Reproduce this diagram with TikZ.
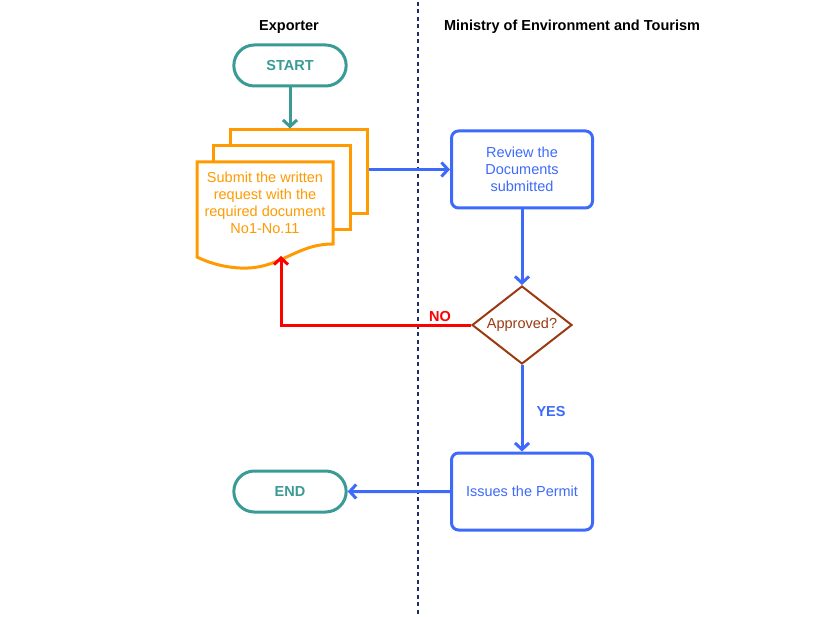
\documentclass[tikz,border=0pt]{standalone}
\usepackage{fontspec}
\setmainfont{Liberation Sans}
\usetikzlibrary{shapes.geometric,shapes.misc,arrows.meta}

\definecolor{teal1}{HTML}{3A9A95}
\definecolor{orange1}{HTML}{FF9A00}
\definecolor{blue1}{HTML}{3D6AFA}
\definecolor{brown1}{HTML}{9A3A12}
\definecolor{navy1}{HTML}{1F2C6B}

\begin{document}
\begin{tikzpicture}[x=1pt,y=-1pt,
    font=\fontsize{14.5}{17}\selectfont,
    tip/.style={line width=3pt,-{Straight Barb[length=6.5pt,width=14pt]}},
    term/.style={rounded rectangle,draw=teal1,line width=3pt,text=teal1,
      font=\fontsize{14.5}{17}\selectfont\bfseries,minimum width=119pt,minimum height=41pt},
    page/.style={draw=orange1,line width=3pt,fill=white,minimum width=137pt,minimum height=84pt},
    task/.style={draw=blue1,line width=3pt,rounded corners=7pt,text=blue1,align=center,
      minimum width=141pt,minimum height=77pt},
    lane/.style={font=\fontsize{14.5}{17}\selectfont\bfseries}]
  \useasboundingbox (0,0) rectangle (837,617);

  % lanes
  \node[lane] (exp) at (289,27) {Exporter};
  \node[lane] (min) at (572,27) {Ministry of Environment and Tourism};
  \draw[navy1,line width=2pt,dash pattern=on 4pt off 3.5pt] (418,2) -- (418,617);

  % exporter side
  \node[term] (start) at (290,65.5) {START};
  \node[page] (page3) at (298.5,172) {};
  \node[page] (page2) at (281.5,187.5) {};
  \draw[orange1,line width=3pt,fill=white] (197,162) -- (333,162) -- (333,244)
    .. controls (295,244) and (280,270) .. (240,268)
    .. controls (220,267) and (205,261) .. (197,257) -- cycle;
  \node[text=orange1,align=center] (doc) at (265,203)
    {Submit the written\\request with the\\required document\\No1-No.11};
  \coordinate (docin) at (281,256);
  \node[term] (end) at (290,491.5) {END};

  % ministry side
  \node[task] (review) at (522,169.5) {Review the\\Documents\\submitted};
  \node[diamond,draw=brown1,line width=2pt,text=brown1,aspect=1.28,inner sep=1pt,
    minimum width=100pt,minimum height=78pt] (ok) at (522,325) {Approved?};
  \node[task] (permit) at (522,491.5) {Issues the Permit};

  % flow
  \draw[tip,teal1] (start.south) -- (start.south |- page3.north);
  \draw[tip,blue1] (page3.east |- review.west) -- (review.west);
  \draw[tip,blue1] (review) -- (ok);
  \draw[tip,red] (ok.west) -| (docin);
  \node[text=red,font=\fontsize{14.5}{17}\selectfont\bfseries] (no) at (440,317) {NO};
  \draw[tip,blue1] (ok) -- (permit);
  \node[text=blue1,font=\fontsize{14.5}{17}\selectfont\bfseries] (yes) at (551,412) {YES};
  \draw[tip,blue1] (permit) -- (end);
\end{tikzpicture}
\end{document}
